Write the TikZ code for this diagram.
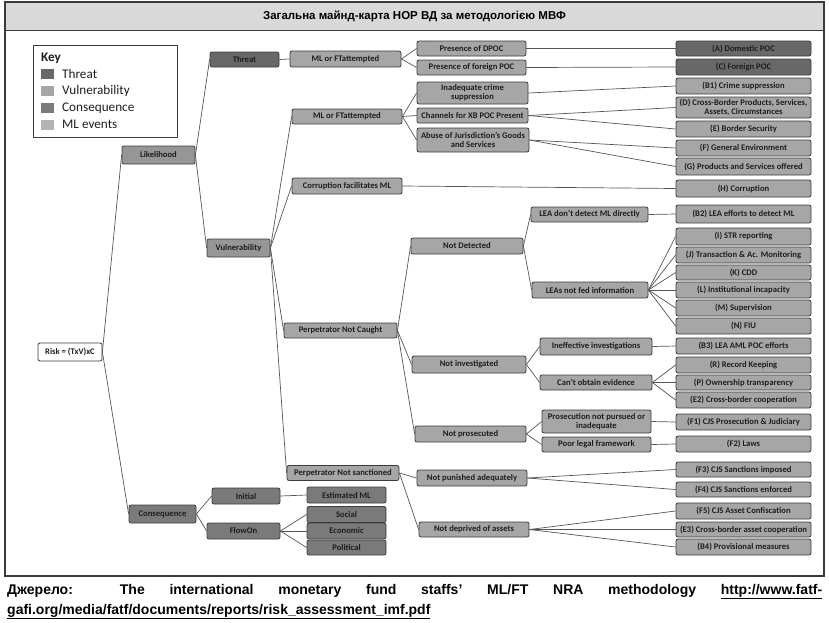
\documentclass[tikz,border=0pt]{standalone}
\usepackage{fontspec}
\setmainfont{Carlito}
\newfontfamily\headfont{Liberation Sans}
\definecolor{boxline}{HTML}{3C3C3C}
\definecolor{wire}{HTML}{555555}
\definecolor{txt}{HTML}{1E1E1E}
\definecolor{thr}{HTML}{686868}
\definecolor{csq}{HTML}{7A7A7A}
\definecolor{vul}{HTML}{969696}
\definecolor{mle}{HTML}{A6A6A6}
\definecolor{band}{HTML}{D9D9D9}
\definecolor{frame}{HTML}{3A3A3A}
\begin{document}
\begin{tikzpicture}[x=1pt,y=-1pt,
  box/.style={draw=boxline, line width=0.8pt, rounded corners=2pt, inner sep=0.3pt,
    align=center, text=txt, font=\fontsize{8.6}{8.8}\selectfont\bfseries},
  tbox/.style={box, fill=thr},
  cbox/.style={box, fill=csq},
  vbox/.style={box, fill=vul},
  mbox/.style={box, fill=mle},
  wbox/.style={box, fill=white},
  link/.style={draw=wire, line width=0.7pt},
  keytext/.style={anchor=west, inner sep=0pt, text=txt, font=\fontsize{13.2}{14}\selectfont},
  swatch/.style={draw=none, minimum width=13pt, minimum height=10pt, inner sep=0pt},
  srctext/.style={anchor=base west, inner sep=0pt, font=\headfont\bfseries\fontsize{14}{15}\selectfont}
]
\useasboundingbox (0,0) rectangle (829,622);

% table frame, title band and caption rule
\fill[band] (5,2) rectangle (824,30);
\draw[frame, line width=1.3pt] (5,2) rectangle (824,576);
\draw[frame, line width=0.6pt] (5,30) -- (824,30);
\node[font=\headfont\bfseries\fontsize{11.5}{12}\selectfont, inner sep=0pt] (title) at (414.5,16.5)
  {Загальна майнд-карта НОР ВД за методологією МВФ};

% key
\draw[boxline, line width=0.8pt] (33,45) rectangle (177,137);
\node[keytext, font=\fontsize{13.2}{14}\selectfont\bfseries] (keyhead) at (41,58) {Key};
\node[swatch, fill=thr] (kt) at (47.5,74) {};
\node[swatch, fill=mle] (kv) at (47.5,91) {};
\node[swatch, fill=csq] (kc) at (47.5,108) {};
\node[swatch, fill=mle!85!white] (km) at (47.5,124.5) {};
\node[keytext] (ktl) at (62,74) {Threat};
\node[keytext] (kvl) at (62,91) {Vulnerability};
\node[keytext] (kcl) at (62,108) {Consequence};
\node[keytext] (kml) at (62,124.5) {ML events};

% first levels
\node[wbox, minimum width=64pt, minimum height=18pt] (risk) at (70,352) {Risk = (TxV)xC};
\node[vbox, minimum width=73pt, minimum height=18pt] (lik) at (158.5,155) {Likelihood};
\node[cbox, minimum width=67pt, minimum height=18pt] (cons) at (162.5,514) {Consequence};
\node[tbox, minimum width=69pt, minimum height=15pt] (thr) at (244.5,59.5) {Threat};
\node[vbox, minimum width=63pt, minimum height=18pt] (vul) at (238.5,248) {Vulnerability};
\node[cbox, minimum width=68pt, minimum height=16pt] (init) at (246,496) {Initial};
\node[cbox, minimum width=73pt, minimum height=16pt] (flow) at (243.5,531) {FlowOn};
\node[cbox, minimum width=79pt, minimum height=16pt] (estml) at (346.5,495) {Estimated ML};
\node[cbox, minimum width=79pt, minimum height=16pt] (soc) at (346.5,514.5) {Social};
\node[cbox, minimum width=79pt, minimum height=16pt] (eco) at (346.5,531) {Economic};
\node[cbox, minimum width=79pt, minimum height=15pt] (pol) at (346.5,547.5) {Political};

% second column
\node[mbox, minimum width=111pt, minimum height=16pt] (mlft1) at (345.5,59) {ML or FTattempted};
\node[mbox, minimum width=110pt, minimum height=15pt] (mlft2) at (347,116.5) {ML or FTattempted};
\node[mbox, minimum width=110pt, minimum height=16pt] (corr) at (347,186) {Corruption facilitates ML};
\node[mbox, minimum width=113pt, minimum height=15pt] (pnc) at (340.5,330.5) {Perpetrator Not Caught};
\node[mbox, minimum width=112pt, minimum height=15pt] (pns) at (343,473) {Perpetrator Not sanctioned};

% third column
\node[mbox, minimum width=109pt, minimum height=15pt] (dpoc) at (471.5,48.5) {Presence of DPOC};
\node[mbox, minimum width=109pt, minimum height=15pt] (fpoc) at (471.5,67.5) {Presence of foreign POC};
\node[mbox, minimum width=111pt, minimum height=22pt] (inad) at (472.5,93) {Inadequate crime\\suppression};
\node[mbox, minimum width=111pt, minimum height=15pt] (chan) at (472.5,115.5) {Channels for XB POC Present};
\node[mbox, minimum width=112pt, minimum height=24pt] (abuse) at (473,140) {Abuse of Jurisdiction's Goods\\and Services};
\node[mbox, minimum width=112pt, minimum height=16pt] (notdet) at (467,246) {Not Detected};
\node[mbox, minimum width=114pt, minimum height=17pt] (notinv) at (469,364.5) {Not investigated};
\node[mbox, minimum width=111pt, minimum height=16pt] (notpros) at (470.5,434) {Not prosecuted};
\node[mbox, minimum width=110pt, minimum height=16pt] (notpun) at (472,478) {Not punished adequately};
\node[mbox, minimum width=110pt, minimum height=15pt] (notdep) at (474,529.5) {Not deprived of assets};

% fourth column
\node[mbox, minimum width=117pt, minimum height=15pt] (leadd) at (589.5,214.5) {LEA don't detect ML directly};
\node[mbox, minimum width=116pt, minimum height=16pt] (leanf) at (590,290) {LEAs not fed information};
\node[mbox, minimum width=112pt, minimum height=17pt] (ineff) at (596,346.5) {Ineffective investigations};
\node[mbox, minimum width=112pt, minimum height=15pt] (cant) at (596,382.5) {Can't obtain evidence};
\node[mbox, minimum width=109pt, minimum height=23pt] (prosnp) at (596.5,421.5) {Prosecution not pursued or\\inadequate};
\node[mbox, minimum width=109pt, minimum height=15pt] (poor) at (596.5,444.5) {Poor legal framework};

% outcome column
\tikzset{obox/.style={mbox, minimum width=135pt}}
\node[tbox, minimum width=135pt, minimum height=15pt] (A) at (743.5,48.5) {(A) Domestic POC};
\node[tbox, minimum width=135pt, minimum height=16pt] (C) at (743.5,67) {(C) Foreign POC};
\node[obox, minimum height=16pt] (B1) at (743.5,86) {(B1) Crime suppression};
\node[obox, minimum height=21pt] (D) at (743.5,107.5) {(D) Cross-Border Products, Services,\\Assets, Circumstances};
\node[obox, minimum height=16pt] (E) at (743.5,129) {(E) Border Security};
\node[obox, minimum height=16pt] (F) at (743.5,148) {(F) General Environment};
\node[obox, minimum height=17pt] (G) at (743.5,166.5) {(G) Products and Services offered};
\node[obox, minimum height=17pt] (H) at (743.5,188.5) {(H) Corruption};
\node[obox, minimum height=18pt] (B2) at (743.5,214) {(B2) LEA efforts to detect ML};
\node[obox, minimum height=17pt] (I) at (743.5,236.5) {(I) STR reporting};
\node[obox, minimum height=16pt] (J) at (743.5,255) {(J) Transaction \& Ac. Monitoring};
\node[obox, minimum height=15pt] (K) at (743.5,272.5) {(K) CDD};
\node[obox, minimum height=16pt] (L) at (743.5,290) {(L) Institutional incapacity};
\node[obox, minimum height=16pt] (M) at (743.5,308) {(M) Supervision};
\node[obox, minimum height=16pt] (N) at (743.5,326) {(N) FIU};
\node[obox, minimum height=16pt] (B3) at (743.5,346) {(B3) LEA AML POC efforts};
\node[obox, minimum height=16pt] (R) at (743.5,365) {(R) Record Keeping};
\node[obox, minimum height=15pt] (P) at (743.5,382.5) {(P) Ownership transparency};
\node[obox, minimum height=16pt] (E2) at (743.5,400) {(E2) Cross-border cooperation};
\node[obox, minimum height=16pt] (F1) at (743.5,422) {(F1) CJS Prosecution \& Judiciary};
\node[obox, minimum height=16pt] (F2) at (743.5,444) {(F2) Laws};
\node[obox, minimum height=15pt] (F3) at (743.5,469.5) {(F3) CJS Sanctions imposed};
\node[obox, minimum height=15pt] (F4) at (743.5,489.5) {(F4) CJS Sanctions enforced};
\node[obox, minimum height=16pt] (F5) at (743.5,511) {(F5) CJS Asset Confiscation};
\node[obox, minimum height=15pt] (E3) at (743.5,529.5) {(E3) Cross-border asset cooperation};
\node[obox, minimum height=16pt] (B4) at (743.5,547) {(B4) Provisional measures};

% connectors
\foreach \p/\c in {risk/lik, risk/cons, lik/thr, lik/vul, cons/init, cons/flow,
    init/estml, flow/soc, flow/eco, flow/pol,
    thr/mlft1, vul/mlft2, vul/corr, vul/pnc, vul/pns,
    mlft1/dpoc, mlft1/fpoc, dpoc/A, fpoc/C,
    mlft2/inad, mlft2/chan, mlft2/abuse, inad/B1, chan/D, chan/E, abuse/F, abuse/G,
    corr/H, pnc/notdet, pnc/notinv, pnc/notpros,
    notdet/leadd, notdet/leanf, leadd/B2,
    leanf/I, leanf/J, leanf/K, leanf/L, leanf/M, leanf/N,
    notinv/ineff, notinv/cant, ineff/B3, cant/R, cant/P, cant/E2,
    notpros/prosnp, notpros/poor, prosnp/F1, poor/F2,
    pns/notpun, pns/notdep, notpun/F3, notpun/F4, notdep/F5, notdep/E3, notdep/B4}
  \draw[link] (\p.east) -- (\c.west);

% source line under the table
\node[srctext] (src1) at (7,594)
  {\makebox[815pt][s]{Джерело: The international monetary fund staffs’ ML/FT NRA methodology \underline{http://www.fatf-}}};
\node[srctext] (src2) at (7,614)
  {\underline{gafi.org/media/fatf/documents/reports/risk\_assessment\_imf.pdf}};
\end{tikzpicture}
\end{document}
